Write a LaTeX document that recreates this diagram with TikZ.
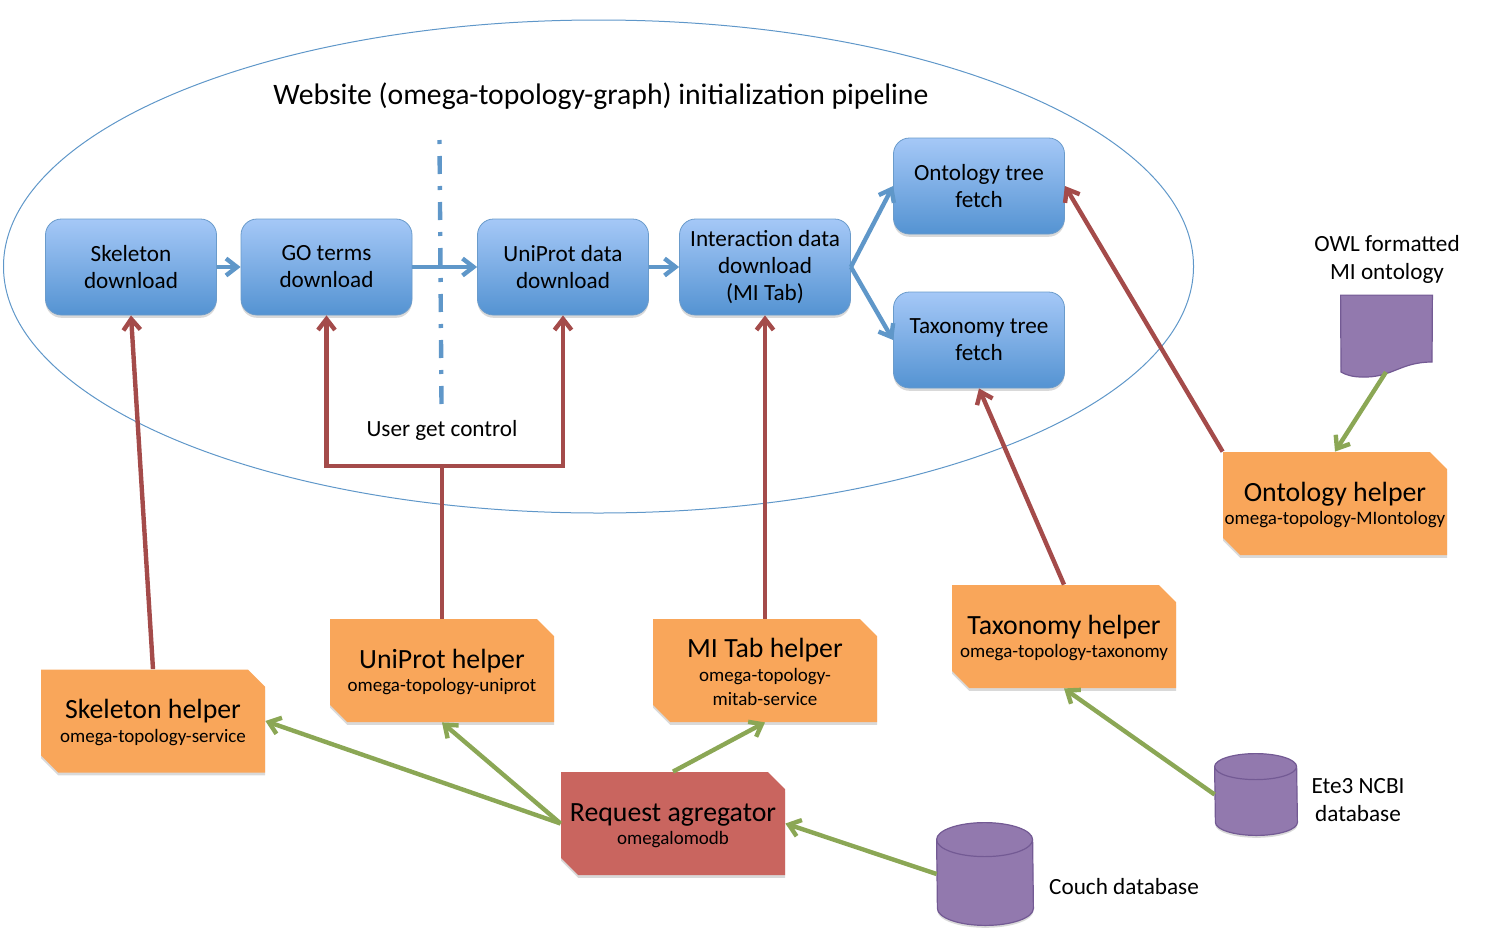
\documentclass[tikz,border=0pt]{standalone}
\usepackage{fontspec}
\setmainfont{Carlito}
\usepackage{xcolor}
\usetikzlibrary{arrows.meta,positioning,calc,shadows,shapes.geometric,shapes.misc}
\definecolor{cStepTop}{RGB}{165,200,247}
\definecolor{cStepBot}{RGB}{84,147,210}
\definecolor{cStepLine}{RGB}{106,155,203}
\definecolor{cHelper}{RGB}{249,166,90}
\definecolor{cAgreg}{RGB}{201,101,95}
\definecolor{cData}{RGB}{146,121,174}
\definecolor{cDataLine}{RGB}{115,90,148}
\definecolor{cBlue}{RGB}{95,151,201}
\definecolor{cRed}{RGB}{164,75,74}
\definecolor{cGreen}{RGB}{139,167,85}
\tikzset{
  >={Straight Barb[length=5.5pt,width=8.5pt]},
  stepbox/.style={draw=cStepLine,rounded corners=8pt,top color=cStepTop,bottom color=cStepBot,
              minimum width=85.5pt,minimum height=48pt,inner sep=0pt,align=center,
              font=\fontsize{11.6}{13.5}\selectfont,
              drop shadow={shadow xshift=0pt,shadow yshift=-1.4pt,opacity=.3}},
  helper/.style={chamfered rectangle,chamfered rectangle corners={north east,south west},
              chamfered rectangle xsep=4.3pt,chamfered rectangle ysep=4.3pt,
              fill=cHelper,minimum width=112pt,minimum height=51.5pt,inner sep=0pt,align=center,
              font=\fontsize{9.5}{11.8}\selectfont,
              drop shadow={shadow xshift=0pt,shadow yshift=-1.4pt,opacity=.3}},
  agreg/.style={helper,fill=cAgreg},
  docu/.style={draw=cDataLine,fill=cData,line width=.6pt},
  lbl/.style={align=center,font=\fontsize{11.6}{14}\selectfont,inner sep=0pt},
  blue/.style={->,cBlue,line width=2.2pt},
  red/.style={->,cRed,line width=2.2pt},
  green/.style={->,cGreen,line width=2.2pt},
}
\newcommand{\hlp}[2]{{\fontsize{13.9}{15.5}\selectfont\rule{0pt}{11pt}\makebox[80pt]{#1}}\\\makebox[80pt]{#2}}
% cylinder over a plain named node: name, x radius, y radius
\newcommand{\dbcyl}[3]{%
  \draw[docu,drop shadow={shadow xshift=0pt,shadow yshift=-1.2pt,opacity=.3}]
    ([yshift=-#3]#1.north west) arc[start angle=180,end angle=0,x radius=#2,y radius=#3]
    -- ([yshift=#3]#1.south east) arc[start angle=0,end angle=-180,x radius=#2,y radius=#3] -- cycle;
  \draw[docu,fill=none] ([yshift=-#3]#1.north west) arc[start angle=180,end angle=360,x radius=#2,y radius=#3];}

\begin{document}
\begin{tikzpicture}[x=0.5pt,y=-0.5pt]
  \useasboundingbox (0,0) rectangle (1491,942);
  % the pipeline ellipse and its title
  \node[draw=cBlue,ellipse,line width=.5pt,minimum width=595pt,minimum height=246.5pt,inner sep=0pt] (pipe) at (598.5,266.5) {};
  \node[lbl,font=\fontsize{14.85}{18}\selectfont] (title) at (601,96) {Website (omega-topology-graph) initialization pipeline};

  % pipeline steps
  \node[stepbox] (bSkel) at (131,267) {Skeleton\\download};
  \node[stepbox] (bGo)   at (326.5,267) {GO terms\\download};
  \node[stepbox] (bUni)  at (563,267) {UniProt data\\download};
  \node[stepbox] (bInt)  at (765,267) {Interaction data\\download\\(MI Tab)};
  \node[stepbox] (bOnt)  at (979,186) {Ontology tree\\fetch};
  \node[stepbox] (bTax)  at (979,340) {Taxonomy tree\\fetch};

  % helpers
  \node[helper] (hSkel) at (153,721)   {\hlp{Skeleton helper}{omega-topology-service}};
  \node[helper] (hUni)  at (442,670.5) {\hlp{UniProt helper}{omega-topology-uniprot}};
  \node[helper] (hMi)   at (765,670.5) {\hlp{MI Tab helper}{omega-topology-}\\mitab-service};
  \node[helper] (hTax)  at (1064,636.5){\hlp{Taxonomy helper}{omega-topology-taxonomy}};
  \node[helper] (hOnt)  at (1335,503.5){\hlp{Ontology helper}{omega-topology-MIontology}};
  \node[agreg]  (hReq)  at (673,823.5) {\hlp{Request agregator}{omegalomodb}};

  % data sources
  \node[minimum width=48pt,minimum height=51pt,inner sep=0pt] (couch) at (985,874) {};
  \node[minimum width=41pt,minimum height=40.5pt,inner sep=0pt] (ete)  at (1256,794.5) {};
  \dbcyl{couch}{24pt}{8.5pt}
  \dbcyl{ete}{20.5pt}{6.5pt}
  \node[minimum width=45.5pt,minimum height=41pt,inner sep=0pt] (owl) at (1386.5,336.5) {};
  \draw[docu] (owl.north west) -- (owl.north east) -- (1432,362)
     .. controls (1400,362) and (1392,378) .. (1362,377)
     .. controls (1353,377) and (1346,375) .. (1341,372) -- cycle;
  \coordinate (owlEnd) at (1386,372);
  \node[lbl] (lCouch) at (1124,887) {Couch database};
  \node[lbl] (lEte)   at (1358,800) {Ete3 NCBI\\database};
  \node[lbl] (lOwl)   at (1387,259) {OWL formatted\\MI ontology};
  \node[lbl] (lUser)  at (442,430)  {User get control};

  % user get separator
  \coordinate (sepA) at (439.5,140);
  \coordinate (sepB) at (441.5,405);
  \draw[cBlue,line width=2.2pt,dash pattern=on 2pt off 6pt on 9pt off 6pt] (sepA) -- (sepB);

  % pipeline order
  \draw[blue] (bSkel) -- (bGo);
  \draw[blue] (bGo) -- (bUni);
  \draw[blue] (bUni) -- (bInt);
  \draw[blue] (bInt.east) -- (bOnt.west);
  \draw[blue] (bInt.east) -- (bTax.west);

  % helper to step
  \coordinate (join) at (hUni.north |- 0,466);
  \draw[red] (hSkel.north) -- (bSkel.south);
  \draw[red,-] (hUni.north) -- (join);
  \draw[red] (join) -| (bGo.south);
  \draw[red] (join) -| (bUni.south);
  \draw[red] (hMi.north) -- (bInt.south);
  \draw[red] (hTax.north) -- (bTax.south);
  \draw[red] (hOnt.north west) -- (bOnt.east);

  % data flow
  \draw[green] (owlEnd) -- (hOnt.north);
  \draw[green] (ete.west) -- (hTax.south);
  \draw[green] (couch.west) -- (hReq.east);
  \draw[green] (hReq.west) -- (hSkel.east);
  \draw[green] (hReq.west) -- (hUni.south);
  \draw[green] (hReq.north) -- (hMi.south);
\end{tikzpicture}
\end{document}
